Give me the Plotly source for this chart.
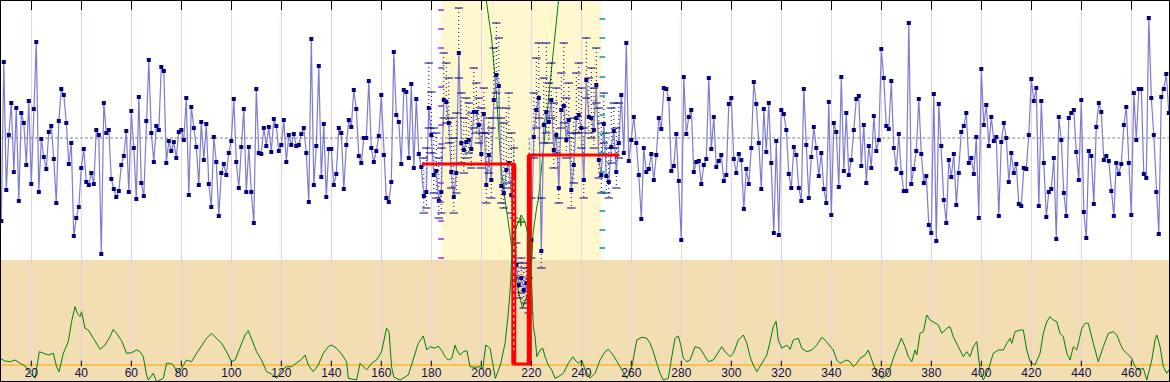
import plotly.graph_objects as go

# ---------------- data ----------------
x_ticks = list(range(20, 461, 20))
x_range = [7.48, 475.48]

blue_start = 8
blue_y = [
    -8.3, 7.6, -5.2, 0.3, 3.5, -3.4, 3.0, -6.3, 2.5, 1.5,
    -2.7, 3.7, -4.6, 2.9, 9.6, -5.4, -0.1, -1.9, -3.1, 0.6,
    1.2, -2.1, -6.5, 1.7, 4.9, 4.3, 1.5, -2.6, -0.5, -9.8,
    -8.0, -6.9, -3.0, -1.1, -4.4, -4.7, -3.5, -4.6, 0.8, 0.3,
    -11.6, 3.5, 0.5, 0.8, -4.1, -5.1, -5.9, -5.3, -2.7, -1.8,
    0.7, -5.4, 2.7, -1.0, -6.1, 4.1, -4.5, -5.8, 1.7, 7.8,
    0.5, -2.4, 1.2, 0.8, 7.1, 6.7, -2.5, -0.3, -1.3, -0.4,
    -2.0, 0.6, 0.8, -0.2, 4.0, -5.7, 3.1, 1.0, -0.9, -4.7,
    1.6, -2.2, 1.4, -4.6, -6.9, 0.1, -2.4, -7.8, -3.5, -2.6,
    -3.7, -1.5, -0.3, 3.9, -2.4, -5.0, -0.9, 2.9, -5.4, -0.9,
    -5.4, -8.5, 4.9, -1.5, -1.6, 1.0, -0.8, 1.1, -1.4, 1.9,
    1.2, -1.3, -0.7, 1.8, -2.4, 0.3, -0.7, 0.4, -0.8, -0.7,
    0.4, 1.0, -1.5, -6.4, 9.9, -4.7, -0.8, 7.2, -3.9, 1.4,
    -5.9, -1.1, -1.1, -4.7, -3.6, 1.0, 0.5, -5.1, -0.7, 1.8,
    1.1, 4.8, 2.9, -1.8, -2.5, 0.0, 0.0, 5.7, -1.0, -2.4,
    -1.3, 0.2, 4.3, -1.7, -6.0, -6.4, -4.4, 8.6, 2.3, 1.6,
    -2.6, 4.8, 4.6, -2.0, 5.4, -3.0, 3.9, -1.6, -2.9, -5.8,
    -5.4, 3.0, 0.3, -3.7, -3.3, -6.3, -5.4, 3.8, 3.6, 1.5,
    -3.4, -5.9, -3.5, 8.5, -0.5, -1.2, -0.4, -0.2, -1.1, 2.6,
    2.6, 1.3, -1.6, 2.4, -4.7, -1.7, -4.2, 3.8, 6.3, 5.2,
    -4.8, -5.5, -3.2, -2.5, -5.7, -6.0, -12.7, -14.7, -14.0, -15.2,
    -14.5, -16.2, -10.2, 0.1, 2.8, 4.0, -11.3, 1.3, 2.6, 1.6,
    3.8, -1.2, 0.3, -5.0, 2.8, 3.2, -0.2, 1.8, -5.2, -2.7,
    2.0, 2.3, 1.0, -4.2, 5.8, 2.1, 2.0, 0.8, 5.3, -2.2,
    -3.7, 1.4, -3.8, -4.4, -0.9, 0.7, -3.4, -0.5, 4.3, -1.5,
    9.5, -2.3, -0.2, 2.1, -0.5, -3.7, -8.1, -1.0, -3.4, -3.1,
    -1.6, -4.2, -1.7, 2.0, 0.9, 5.0, 4.9, 3.9, -3.3, -2.8,
    0.4, -4.3, -10.2, 6.1, 0.4, 2.1, 2.8, -3.4, -2.4, -2.3,
    -4.6, -2.7, -2.1, 6.0, -1.1, 2.1, -2.9, -2.3, -1.7, -4.3,
    -3.7, 3.4, 4.0, -2.1, -3.5, -1.6, -2.2, -7.1, -3.1, -4.6,
    -1.0, 5.6, 3.4, -0.5, -5.1, 2.9, -1.4, 3.5, -2.5, -9.5,
    -0.3, -9.7, 2.8, 2.4, 0.8, -3.6, -5.0, -0.9, -1.7, -5.0,
    -6.3, 4.9, -0.7, -6.0, -1.9, 1.1, -1.0, -3.8, -1.5, -5.1,
    -6.5, 3.6, -7.7, 1.5, 0.6, -4.9, 6.1, -3.3, 2.5, -3.7,
    -2.2, 0.8, 3.9, 4.2, -2.8, 1.3, -4.5, -0.8, -3.0, 2.2,
    -1.3, -0.2, 8.9, 6.0, 1.2, 0.9, 5.7, -1.0, -3.1, 0.4,
    -3.5, -5.3, -5.3, 11.5, -4.6, -3.1, -1.3, 3.9, -1.6, -4.5,
    -3.8, -8.7, -9.5, 4.4, -10.3, 3.4, -0.8, -6.2, -8.5, -2.2,
    -3.9, -1.6, -6.7, -3.5, 0.6, 1.2, 2.5, -2.5, -2.0, -3.6,
    0.1, -8.0, 6.9, 1.3, 3.3, -0.8, 2.1, -0.3, 0.1, -7.8,
    -0.4, 1.5, 0.0, -4.4, -1.5, -3.5, -2.6, -6.6, -6.8, -3.0,
    -3.1, 0.3, 5.9, 3.7, 5.0, -6.8, 3.7, -2.5, -7.9, -5.4,
    -5.1, -2.0, -10.1, 2.1, -0.2, -5.5, -7.8, 2.0, 2.5, 2.8,
    -1.4, -4.2, 3.8, -7.4, -10.0, -1.3, -1.8, -6.6, 1.1, 3.5,
    2.6, -2.2, -1.8, -2.3, -5.3, -7.8, -2.5, -3.6, -2.6, 1.3,
    3.1, -2.5, -7.7, 4.5, -0.2, 4.9, 4.9, -3.6, -4.0, 12.0,
    4.0, 0.3, -5.4, -9.6, 4.1, 4.9, 6.4, 2.5,
]
blue_x = list(range(blue_start, blue_start + len(blue_y)))

# lower statistic (secondary scale, orange baseline = 0)
green_x = [
    7.5, 9.5, 11.5, 13.5, 15.5, 17.5, 19.5, 21.5, 23.2, 24.8, 26.8, 28.8, 30.1, 31.1,
    32.8, 34.8, 36.1, 37.5, 38.4, 39.5, 40.1, 41.5, 42.8, 44.8, 47.5, 49.5, 51.5, 52.8,
    54.1, 56.1, 58.1, 60.1, 62.1, 63.5, 64.8, 66.1, 66.8, 68.8, 70.1, 72.8, 74.1, 75.5,
    76.8, 78.1, 80.1, 82.1, 84.1, 86.1, 88.1, 90.1, 92.1, 94.1, 96.1, 98.1, 100.1, 101.5,
    103.5, 105.5, 106.8, 108.1, 110.1, 112.1, 114.1, 116.1, 118.1, 120.1, 122.1, 124.1,
    126.1, 128.1, 129.5, 130.8, 132.8, 134.8, 136.8, 138.8, 140.1, 142.1, 144.1, 146.1,
    146.8, 148.8, 150.1, 151.5, 152.8, 154.1, 156.1, 158.1, 160.1, 162.1, 163.1, 164.1,
    165.0, 167.5, 170.8, 172.8, 174.8, 176.8, 178.2, 179.5, 181.5, 182.8, 184.2, 185.5,
    186.8, 188.2, 189.5, 190.2, 191.5, 192.8, 194.2, 195.5, 197.5, 199.5, 200.6, 201.8,
    203.5, 204.8, 205.6, 206.4, 207.8, 209.5, 210.8, 211.8, 212.3, 213.9, 215.9, 217.5,
    219.1, 220.0, 220.8, 221.5, 222.2, 223.5, 224.6, 225.5, 226.8, 228.2, 229.5, 230.8,
    232.8, 234.8, 236.6, 237.5, 238.8, 240.2, 241.5, 243.5, 245.5, 247.5, 249.5, 250.8,
    252.2, 253.5, 255.5, 258.2, 260.2, 262.2, 264.2, 266.2, 267.5, 268.8, 270.2, 271.5,
    272.8, 274.8, 276.2, 277.5, 278.8, 279.8, 280.8, 282.2, 283.5, 285.5, 287.5, 289.5,
    290.8, 292.8, 294.8, 296.2, 297.5, 299.5, 300.8, 302.8, 304.8, 306.2, 307.5, 308.8,
    310.2, 312.2, 314.2, 315.5, 316.8, 317.9, 318.8, 320.2, 322.2, 323.5, 324.8, 326.8,
    328.2, 330.2, 332.2, 334.2, 336.2, 337.5, 339.5, 340.8, 342.2, 343.5, 344.8, 346.2,
    347.5, 348.8, 350.2, 351.5, 353.5, 354.8, 356.2, 358.2, 360.2, 362.2, 363.5, 365.5,
    366.8, 368.0, 369.5, 370.8, 372.2, 373.5, 374.2, 375.5, 376.8, 378.2, 379.5, 380.8,
    382.8, 384.2, 386.2, 387.5, 388.8, 390.8, 392.8, 394.2, 395.5, 396.8, 398.2, 399.5,
    400.8, 402.8, 404.8, 406.8, 408.8, 410.2, 411.5, 412.2, 413.5, 415.5, 416.8, 418.2,
    419.5, 421.5, 423.5, 424.8, 426.2, 427.5, 428.8, 430.2, 431.5, 432.8, 434.2, 435.5,
    436.8, 438.2, 440.2, 441.5, 442.8, 444.8, 446.8, 448.8, 450.8, 452.8, 454.2, 455.5,
    456.8, 458.2, 460.2, 461.5, 462.8, 464.8, 466.2, 468.2, 469.5, 470.2, 471.5, 472.8,
    474.2, 475.5,
]
green_y = [
    0.67, 0.4, 0.33, 0.5, 0.17, -0.1, -0.83, -1.33, 1.33, 1.17, 1.0, 1.17, -0.17, -0.67,
    1.17, 2.33, 4.33, 5.83, 5.17, 4.83, 5.33, 3.67, 3.5, 2.67, 1.57, 2.0, 2.83, 3.57,
    3.17, 2.43, 1.17, 1.23, 1.5, 1.33, 0.83, -1.0, -1.5, -0.83, -1.67, -1.33, 0.17, 0.17,
    0.0, -0.67, -0.33, 0.5, 0.33, 1.17, 1.9, 2.67, 3.17, 2.67, 2.17, 1.33, 0.33, 0.5,
    1.83, 3.0, 3.43, 2.67, 1.33, 0.5, -0.67, -0.9, -1.33, -0.5, -0.17, -0.17,
    0.17, 0.57, 1.0, 0.0, -0.67, 0.0, 1.17, 1.83, 2.0, 1.67, 1.1, 0.33,
    -1.33, -1.43, -1.5, 0.17, -0.17, -0.5, 0.17, 0.5, 1.33, 3.67, 3.33, -0.17,
    -1.2, -1.5, -1.0, 0.5, 2.17, 2.9, 1.5, 1.83, 1.67, 1.9, 1.43, 0.83,
    0.5, 0.67, 2.0, 1.5, 1.0, 1.33, 1.43, -0.17, -0.23, -0.17, -0.33, 2.0,
    1.67, -0.17, -1.33, -0.83, 0.17, 2.17, 5.17, 8.5, 11.5, 13.7, 15.0, 14.3,
    12.5, 9.0, 3.83, 2.83, 0.83, 1.5, 1.67, 0.83, 0.0, -0.5, -1.33, -1.17,
    -0.83, 0.17, 0.83, 0.5, 0.17, 0.5, -0.5, -1.33, -0.83, 0.5, 1.33, 1.57,
    1.17, 0.67, -0.17, -1.33, -0.17, 2.5, 2.77, 2.67, 2.17, 1.33, 0.17, -0.83,
    -1.5, -1.33, 0.83, 2.67, 2.9, 2.0, 0.67, 0.33, 0.5, 1.83, 1.67, 0.83,
    0.33, 0.5, 1.33, 1.83, 1.33, 0.83, 1.17, 2.5, 3.0, 2.17, 0.83, 0.0,
    -0.67, 0.17, 1.0, 2.33, 3.83, 4.4, 2.5, 1.67, 2.0, 1.57, 2.5, 2.67,
    1.67, 1.33, 1.5, 2.0, 2.77, 2.5, 1.83, 1.5, 0.5, 0.17, 0.33, 0.5,
    0.33, -0.17, 0.17, 0.67, 1.0, 1.5, 0.5, -0.83, -1.33, -1.0, -0.33, 1.17,
    1.9, 2.7, 1.83, 0.83, 0.33, 1.5, 1.0, 3.17, 3.33, 5.0, 4.5, 4.33,
    4.0, 3.17, 3.67, 3.83, 2.83, 1.83, 0.83, 1.33, 0.83, 1.83, 2.33, -0.5,
    -1.5, -0.5, 1.17, 1.5, 1.5, 2.17, 2.67, 2.17, 3.33, 3.5, 3.5, 1.5,
    0.33, 0.0, 1.17, 3.17, 4.33, 4.83, 4.5, 4.33, 3.17, 2.83, 1.17, 0.5,
    1.83, 1.5, 3.67, 4.17, 4.17, 2.17, 0.33, 1.83, 3.17, 3.33, 3.0, 2.17,
    1.5, 1.17, 0.67, -0.17, -0.5, -0.33, -1.5, 0.5, 2.5, 3.0, 1.83, -0.17,
    -0.83, -0.33,
]

# analysis window: per-point upper / lower marks
band_idx = list(range(177, 256))
band_hi = [
    -2.0, -1.0, 7.5, 4.6, 1.0, 0.5, -2.0, -1.0, 8.5, 7.5, 6.0, 2.0, 0.0, 2.5, 13.0, 4.5,
    2.0, 4.0, 3.5, 2.5, 7.0, 5.5, 4.0, 3.0, 5.0, 0.5, 2.0, 1.0, 9.0, 11.5, 10.0, 2.0,
    1.5, 3.0, 4.5, 0.5, -1.0, -10.5, -12.5, -12.0, -13.0, -12.5, -14.0, -6.0, 4.5, 8.0,
    9.5, -6.0, 6.0, 9.5, 5.5, 7.5, 3.5, 5.0, 0.0, 6.5, 9.5, 4.0, 5.5, 0.5, 2.0, 6.5,
    7.5, 5.0, 1.0, 10.0, 6.0, 7.0, 5.0, 9.0, 3.0, 1.5, 4.5, 0.5, -1.0, 3.0, 3.5, 1.0, 3.5,
]
band_lo = [
    -7.5, -7.0, 1.0, -1.5, -5.5, -6.0, -8.0, -7.5, 2.0, 1.5, -0.5, -5.0, -7.5, -5.5, 6.0, -2.5,
    -3.5, -2.0, -1.5, -3.0, 1.0, 0.5, -0.5, -3.0, 0.5, -6.5, -3.5, -6.0, 2.0, 4.5, 3.0, -6.5,
    -7.0, -5.0, -4.5, -7.5, -8.0, -14.0, -16.0, -15.5, -17.0, -16.5, -17.5, -12.0, -2.0, 1.0,
    2.0, -13.0, -0.5, 0.5, -0.5, 2.0, -3.0, -1.5, -6.5, 1.0, 1.5, -2.0, 0.0, -7.0, -4.5, 0.5,
    0.5, -1.0, -6.0, 4.0, 0.5, 0.0, -1.0, 3.5, -4.0, -5.5, -0.5, -5.5, -6.0, -2.5, -1.0, -5.0, -2.0,
]
window_x = [183.9, 247.9]
window_left_ticks = [12.8, 10.9, 9.0, 7.0, 5.1, 3.2, 1.3, -0.6, -2.5, -4.5, -6.4, -8.3, -10.1, -12.0]
window_right_ticks = [11.9, 10.0, 8.1, 6.1, 4.2, 2.3, 0.4, -1.5, -3.4, -5.4, -7.3, -9.2, -11.0]

# fitted level (step) and cost curve
step_x = [176.3, 213.0, 213.0, 219.2, 219.2, 255.2]
step_y = [-2.6, -2.6, -22.6, -22.6, -1.7, -1.7]
curve_x = [201.7, 204.2, 206.2, 207.9, 209.5, 211.5, 213.5, 214.7, 216.5, 219.1, 220.2,
           220.7, 222.2, 222.8, 225.5, 228.2, 230.8, 231.1]
curve_y = [14.3, 9.8, 3.8, -2.9, -6.2, -9.5, -12.9, -15.2, -17.0, -15.2, -12.2,
           -9.5, -6.9, -6.2, 0.5, 7.1, 13.8, 14.3]
curve_best = (215.8, -8.4)
mean_level = 0.0
tan_top = -12.2

y_range = [-24.4, 13.8]
y2_range = [-1.7, 36.5]

NAVY = "#000080"
LAV = "#7c7cd0"
GREEN = "#008000"

fig = go.Figure()

# mean dashed reference (with the gap around the change)
cp_l, cp_r = step_x[1], step_x[3]
fig.add_trace(go.Scatter(
    x=[x_range[0], cp_l, cp_l, None, cp_r, cp_r, x_range[1]],
    y=[mean_level, mean_level, step_y[1], None, -8.7, mean_level, mean_level],
    mode="lines", line=dict(color="#808080", width=1, dash="3px,2px"), hoverinfo="skip"))

# lower statistic
fig.add_trace(go.Scatter(x=green_x, y=green_y, yaxis="y2", mode="lines",
                         line=dict(color=GREEN, width=1), hoverinfo="skip"))
# H marks on baseline
fig.add_trace(go.Scatter(x=x_ticks, y=[0.15] * len(x_ticks), yaxis="y2", mode="markers",
                         marker=dict(symbol="line-ns", size=4, line=dict(color="#000", width=1)),
                         hoverinfo="skip"))

# cost curve
fig.add_trace(go.Scatter(x=curve_x, y=curve_y, mode="lines",
                         line=dict(color=GREEN, width=1), hoverinfo="skip"))

# window dotted ranges
dx, dy = [], []
for i, h, l in zip(band_idx, band_hi, band_lo):
    dx += [i, i, None]
    dy += [h, l, None]
fig.add_trace(go.Scatter(x=dx, y=dy, mode="lines",
                         line=dict(color=NAVY, width=1, dash="1px,3px"), hoverinfo="skip"))

# data line
fig.add_trace(go.Scatter(x=blue_x, y=blue_y, mode="lines+markers",
                         line=dict(color=LAV, width=1.2),
                         marker=dict(symbol="square", size=4, color=NAVY, line=dict(width=0)),
                         hoverinfo="skip"))

# window dashes
fig.add_trace(go.Scatter(x=band_idx + band_idx, y=band_hi + band_lo, mode="markers",
                         marker=dict(symbol="line-ew", size=6, line=dict(color=NAVY, width=1)),
                         hoverinfo="skip"))

# step (fitted levels)
fig.add_trace(go.Scatter(x=step_x, y=step_y, mode="lines",
                         line=dict(color="#ff0000", width=3), hoverinfo="skip"))
fig.add_trace(go.Scatter(x=[step_x[1], step_x[2], None, step_x[3], step_x[4]],
                         y=[step_y[1], step_y[2], None, step_y[3], step_y[4]], mode="lines",
                         line=dict(color="#ff0000", width=5), hoverinfo="skip"))
fig.add_trace(go.Scatter(x=[step_x[1], step_x[1]], y=[-4.2, -21.2], mode="lines",
                         line=dict(color="#ffffff", width=1, dash="3px,3px"), hoverinfo="skip"))

# window scale ticks
fig.add_trace(go.Scatter(x=[window_x[0]] * len(window_left_ticks), y=window_left_ticks,
                         mode="markers", marker=dict(symbol="line-ew", size=4,
                                                     line=dict(color="#8a2be2", width=1.5)),
                         hoverinfo="skip"))
fig.add_trace(go.Scatter(x=[window_x[1] + 0.5] * len(window_right_ticks), y=window_right_ticks,
                         mode="markers", marker=dict(symbol="line-ew", size=4,
                                                     line=dict(color="#009a9a", width=1.5)),
                         hoverinfo="skip"))

# best point on curve
fig.add_trace(go.Scatter(x=[curve_best[0]], y=[curve_best[1]], mode="markers",
                         marker=dict(symbol="cross-thin", size=6, line=dict(color=GREEN, width=1.5)),
                         hoverinfo="skip"))

# invisible trace for the top tick axis
fig.add_trace(go.Scatter(x=[x_ticks[0]], y=[mean_level], xaxis="x2", mode="markers",
                         marker=dict(opacity=0), hoverinfo="skip"))

shapes = [
    dict(type="rect", xref="paper", yref="y", x0=0, x1=1, y0=y_range[0], y1=tan_top,
         fillcolor="#F3DDB3", line=dict(width=0), layer="below"),
    dict(type="rect", xref="x", yref="y", x0=window_x[0], x1=window_x[1], y0=tan_top, y1=y_range[1],
         fillcolor="#FFF8CF", line=dict(width=0), layer="below"),
    dict(type="line", xref="paper", yref="y2", x0=0, x1=1, y0=0, y1=0,
         line=dict(color="#FFA500", width=1), layer="below"),
    dict(type="rect", xref="paper", yref="paper", x0=0, x1=1, y0=0, y1=1,
         line=dict(color="#000", width=2), fillcolor="rgba(0,0,0,0)", layer="above"),
]

fig.update_layout(
    width=1170, height=382,
    margin=dict(l=0, r=0, t=0, b=0, pad=0),
    paper_bgcolor="white", plot_bgcolor="white",
    showlegend=False, shapes=shapes,
    xaxis=dict(range=x_range, tickmode="array", tickvals=x_ticks, ticks="",
               ticklabelposition="inside", showgrid=True, gridcolor="#eccdec", gridwidth=1,
               zeroline=False, showline=False,
               tickfont=dict(family="Liberation Sans", size=12, color="#10103a")),
    xaxis2=dict(range=x_range, overlaying="x", side="top", anchor="y", tickmode="array",
                tickvals=x_ticks, ticks="inside", ticklen=10, tickwidth=1, tickcolor="#000",
                showticklabels=False, showgrid=False, zeroline=False, showline=False),
    yaxis=dict(range=y_range, visible=False, showgrid=False, zeroline=False),
    yaxis2=dict(range=y2_range, overlaying="y", visible=False, showgrid=False, zeroline=False),
)

fig.write_html("out.html", config={"displayModeBar": False},
               post_script="document.body.style.margin='0';document.body.style.overflow='hidden';")
